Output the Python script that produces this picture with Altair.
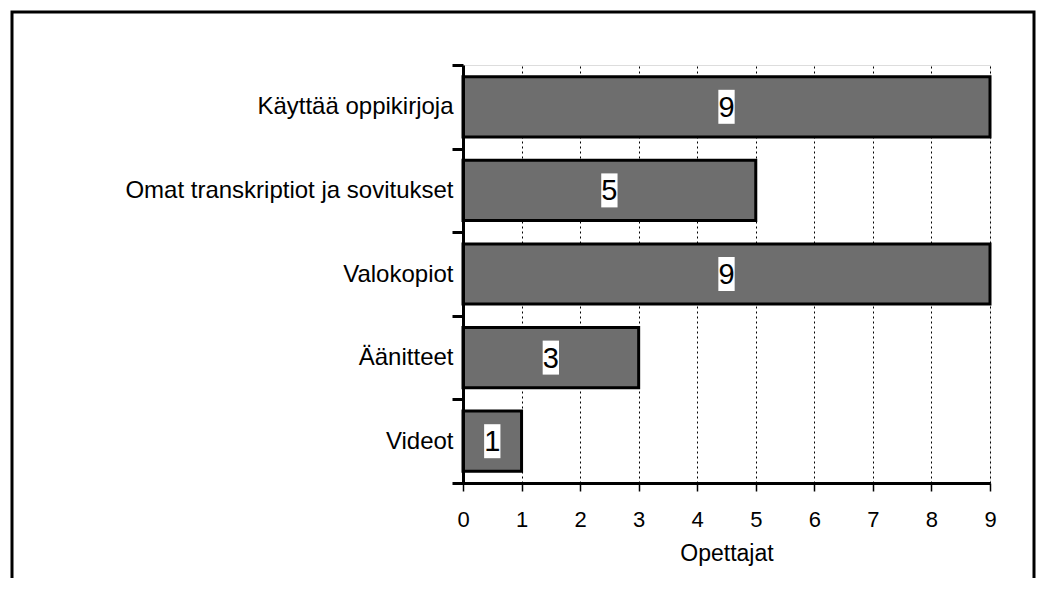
import altair as alt
import pandas as pd

categories = ["Käyttää oppikirjoja", "Omat transkriptiot ja sovitukset", "Valokopiot", "Äänitteet", "Videot"]
values = [9, 5, 9, 3, 1]
x_ticks = [0, 1, 2, 3, 4, 5, 6, 7, 8, 9]
x_title = "Opettajat"

df = pd.DataFrame({"cat": categories, "val": values})

W, H = 527, 418
FONT = "Liberation Sans"

y_scale = alt.Scale(paddingInner=0, paddingOuter=0)

y_enc = alt.Y(
    "cat:N",
    sort=categories,
    scale=y_scale,
    axis=alt.Axis(
        title=None,
        labelFont=FONT,
        labelFontSize=24,
        labelColor="black",
        labelPadding=-1,
        labelLimit=0,
        tickBand="extent",
        tickSize=11,
        tickWidth=3,
        tickColor="black",
        domainColor="black",
        domainWidth=3,
        grid=False,
        zindex=1,
    ),
)

x_scale = alt.Scale(domain=[0, 9], nice=False, zero=True)

bars = alt.Chart(df).mark_bar(
    color="#6e6e6e", stroke="black", strokeWidth=3, height=alt.RelativeBandSize(0.72)
).encode(
    x=alt.X(
        "val:Q",
        scale=x_scale,
        axis=alt.Axis(
            title=x_title,
            titleFont=FONT,
            titleFontSize=23,
            titleFontWeight="normal",
            titleColor="black",
            titlePadding=12,
            values=x_ticks,
            format="d",
            labelFont=FONT,
            labelFontSize=22,
            labelColor="black",
            labelPadding=18,
            labelFlush=False,
            tickSize=8,
            tickWidth=1.5,
            tickColor="black",
            domainColor="black",
            domainWidth=3,
            grid=True,
            gridColor="black",
            gridDash=[2, 3],
            gridWidth=1,
        ),
    ),
    y=y_enc,
)

boxes = alt.Chart(df).transform_calculate(mid="datum.val / 2").mark_point(
    shape="M-0.48,-1H0.48V1H-0.48Z", filled=True, fill="white", stroke=None, opacity=1, size=1156
).encode(
    x=alt.X("mid:Q", scale=x_scale),
    y=alt.Y("cat:N", sort=categories, scale=y_scale),
)

labels = alt.Chart(df).transform_calculate(mid="datum.val / 2").mark_text(
    font="'Liberation Sans Narrow', 'Liberation Sans'", fontSize=29, color="black",
    baseline="middle", align="center", dy=1
).encode(
    x=alt.X("mid:Q", scale=x_scale),
    y=alt.Y("cat:N", sort=categories, scale=y_scale),
    text=alt.Text("val:Q", format="d"),
)

frame = alt.Chart(pd.DataFrame({"f": [0]})).mark_rect(
    filled=False, stroke="black", strokeWidth=3
).encode(
    x=alt.value(-451), x2=alt.value(571), y=alt.value(-53), y2=alt.value(560)
)

chart = alt.layer(frame, bars, boxes, labels).properties(
    width=W,
    height=H,
    autosize=alt.AutoSizeParams(type="none"),
    padding={"left": 455, "top": 57, "right": 46, "bottom": 95},
).configure_view(stroke=None).configure(background="white")

chart.save("out.html", embed_options={"renderer": "svg", "actions": False})
